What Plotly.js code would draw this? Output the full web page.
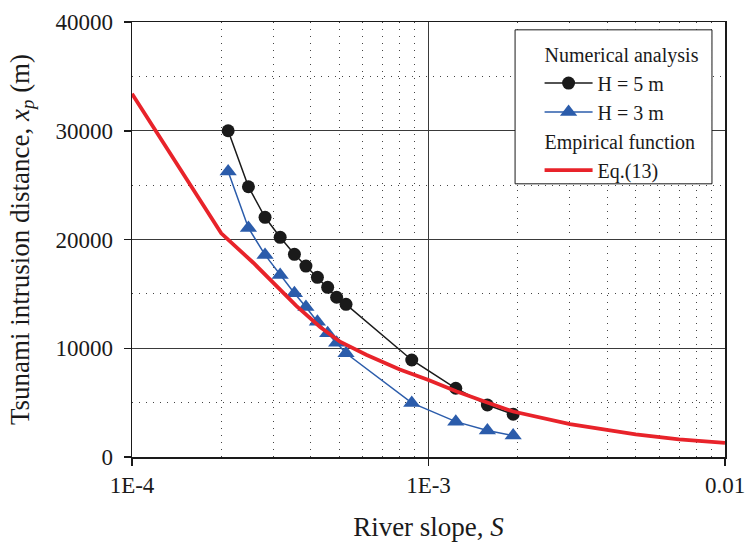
<!DOCTYPE html>
<html>
<head>
<meta charset="utf-8">
<script src="https://cdn.plot.ly/plotly-3.0.1.min.js"></script>
<style>html,body{margin:0;padding:0;background:#fff;}#chart{width:748px;height:545px;}</style>
</head>
<body>
<div id="chart"></div>
<script>
// River slope S for numerical runs
const slopeNum = [2.11e-4, 2.47e-4, 2.81e-4, 3.16e-4, 3.53e-4, 3.86e-4, 4.22e-4, 4.57e-4, 4.90e-4, 5.27e-4, 8.78e-4, 1.236e-3, 1.58e-3, 1.93e-3];
// Tsunami intrusion distance (m), H = 5 m
const xpH5 = [30000, 24850, 22040, 20200, 18640, 17560, 16520, 15600, 14690, 14040, 8920, 6320, 4780, 3930];
// Tsunami intrusion distance (m), H = 3 m
const xpH3 = [26250, 21060, 18580, 16740, 15050, 13790, 12440, 11380, 10510, 9540, 4970, 3250, 2430, 1970];
// Empirical function Eq.(13)
const slopeEq = [1.0e-4, 2.0e-4, 2.57e-4, 3.08e-4, 3.59e-4, 4.31e-4, 5.03e-4, 6.19e-4, 7.0e-4, 8.0e-4, 1.0e-3, 1.245e-3, 1.57e-3, 1.93e-3, 3.0e-3, 4.0e-3, 5.0e-3, 7.0e-3, 1.0e-2];
const xpEq = [33400, 20570, 17840, 15630, 13880, 11950, 10600, 9380, 8720, 8050, 7080, 6020, 5040, 4180, 3030, 2480, 2090, 1630, 1300];

const xMajor = [1e-4, 1e-3, 1e-2];
const xMajorText = ['1E-4', '1E-3', '0.01'];
const xMinor = [2e-4,3e-4,4e-4,5e-4,6e-4,7e-4,8e-4,9e-4,2e-3,3e-3,4e-3,5e-3,6e-3,7e-3,8e-3,9e-3];
const yMinor = [5000, 15000, 25000, 35000];

const serif = "'Liberation Serif', 'Times New Roman', serif";
const ink = '#1a1a1a';

const traces = [
  {x: slopeNum, y: xpH5, type: 'scatter', mode: 'lines+markers', name: 'H = 5 m',
   legendgroup: 'num', legendgrouptitle: {text: 'Numerical analysis', font: {family: serif, size: 20, color: ink}},
   line: {color: ink, width: 1.5}, marker: {symbol: 'circle', size: 13, color: ink}},
  {x: slopeNum, y: xpH3, type: 'scatter', mode: 'lines+markers', name: 'H = 3 m',
   legendgroup: 'num',
   line: {color: '#2b5cab', width: 1.5}, marker: {symbol: 'triangle-up', size: 15, color: '#2b5cab'}},
  {x: slopeEq, y: xpEq, type: 'scatter', mode: 'lines', name: 'Eq.(13)',
   legendgroup: 'emp', legendgrouptitle: {text: 'Empirical function', font: {family: serif, size: 20, color: ink}},
   line: {color: '#e8232a', width: 3.8}}
];

const layout = {
  width: 748, height: 545,
  margin: {l: 132, r: 23, t: 22, b: 88},
  paper_bgcolor: '#fff', plot_bgcolor: '#fff',
  font: {family: serif, color: ink},
  showlegend: true,
  legend: {
    x: 0.974, y: 0.971, xanchor: 'right', yanchor: 'top',
    bgcolor: 'rgba(0,0,0,0)', borderwidth: 0,
    font: {family: serif, size: 20, color: ink},
    tracegroupgap: 0, itemwidth: 48, traceorder: 'grouped'
  },
  shapes: [
    {type: 'rect', xref: 'paper', yref: 'paper', x0: 0.646, x1: 0.978, y0: 0.628, y1: 0.982,
     line: {color: ink, width: 1}, fillcolor: '#fff', layer: 'above'}
  ],
  xaxis: {
    type: 'log', range: [-4, -2],
    tickmode: 'array', tickvals: xMajor, ticktext: xMajorText,
    ticks: 'outside', ticklen: 7, tickwidth: 1.5, tickcolor: ink,
    tickfont: {family: serif, size: 23, color: ink},
    showline: true, linecolor: ink, linewidth: 1.5, mirror: true,
    showgrid: true, gridcolor: '#3a3a3a', gridwidth: 1,
    minor: {tickmode: 'array', tickvals: xMinor, ticks: '', showgrid: true, gridcolor: '#444', gridwidth: 1, griddash: '1px,6px'},
    zeroline: false,
    title: {text: 'River slope, <i>S</i>', font: {family: serif, size: 27, color: ink}, standoff: 20},
    automargin: false
  },
  yaxis: {
    range: [0, 40000], tickmode: 'linear', tick0: 0, dtick: 10000, tickformat: 'd',
    ticks: 'outside', ticklen: 7, tickwidth: 1.5, tickcolor: ink,
    tickfont: {family: serif, size: 23, color: ink},
    ticklabelstandoff: 6,
    showline: true, linecolor: ink, linewidth: 1.5, mirror: true,
    showgrid: true, gridcolor: '#3a3a3a', gridwidth: 1,
    minor: {tickmode: 'array', tickvals: yMinor, ticks: '', showgrid: true, gridcolor: '#444', gridwidth: 1, griddash: '1px,6px'},
    zeroline: false,
    title: {text: 'Tsunami intrusion distance, <i>x</i><sub><i>p</i></sub> (m)', font: {family: serif, size: 27, color: ink}, standoff: 18},
    automargin: false
  }
};

Plotly.newPlot('chart', traces, layout, {displayModeBar: false, staticPlot: true});
</script>
</body>
</html>
